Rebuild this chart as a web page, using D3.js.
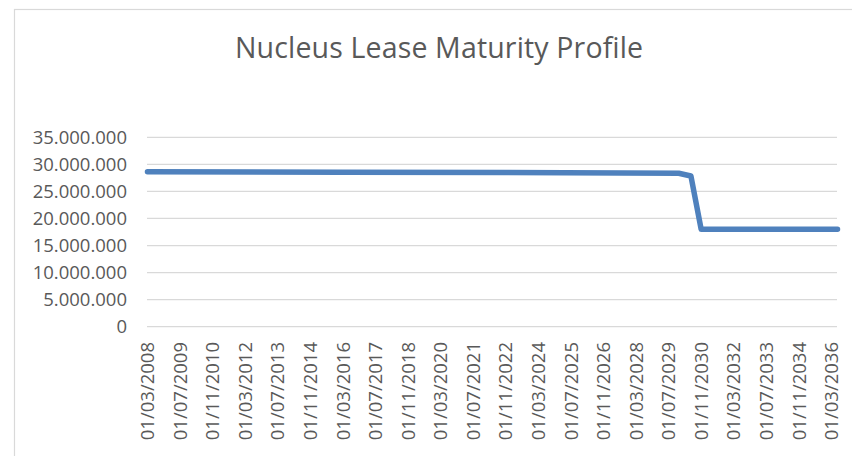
<!DOCTYPE html>
<html>
<head>
<meta charset="utf-8">
<script src="https://cdn.jsdelivr.net/npm/d3@7"></script>
<style>
  html, body { margin: 0; padding: 0; background: #fff; }
  svg { display: block; }
  text { font-family: "Open Sans", sans-serif; fill: #595959; }
</style>
</head>
<body>
<svg id="chart" width="852" height="456"></svg>
<script>
// ---- data ----
const title = "Nucleus Lease Maturity Profile";
// breakpoint dates (monthly category axis, 01/03/2008 .. 01/06/2036)
const pointDates = ["2008-03-01", "2016-03-01", "2022-11-01", "2029-12-01", "2030-06-01", "2030-11-01", "2036-06-01"];
const pointValues = [28620000, 28550000, 28480000, 28350000, 27850000, 18000000, 18000000];
const xDomain = ["2008-03-01", "2036-06-01"];
const xTickLabels = ["01/03/2008","01/07/2009","01/11/2010","01/03/2012","01/07/2013","01/11/2014",
  "01/03/2016","01/07/2017","01/11/2018","01/03/2020","01/07/2021","01/11/2022","01/03/2024",
  "01/07/2025","01/11/2026","01/03/2028","01/07/2029","01/11/2030","01/03/2032","01/07/2033",
  "01/11/2034","01/03/2036"];
const yTicks = [0, 5000000, 10000000, 15000000, 20000000, 25000000, 30000000, 35000000];

// ---- drawing ----
const svg = d3.select("#chart");
const parseISO = d3.utcParse("%Y-%m-%d");
const parseLabel = d3.utcParse("%d/%m/%Y");

const x = d3.scaleUtc().domain(xDomain.map(parseISO)).range([147.5, 837.5]);
const y = d3.scaleLinear().domain([0, 35000000]).range([326.7, 137.3]);

// chart border
svg.append("rect").attr("x", 14.5).attr("y", 9.5).attr("width", 900).attr("height", 500)
  .attr("fill", "none").attr("stroke", "#d9d9d9").attr("stroke-width", 1.2);

// title
svg.append("text").attr("x", 439).attr("y", 58).attr("text-anchor", "middle")
  .style("font-size", "28.5px").style("font-weight", 400)
  .attr("textLength", 408).attr("lengthAdjust", "spacing").text(title);

// gridlines
svg.append("g").selectAll("line").data(yTicks).join("line")
  .attr("x1", 147).attr("x2", 837)
  .attr("y1", d => y(d)).attr("y2", d => y(d))
  .attr("stroke", "#d9d9d9").attr("stroke-width", 1.3);

// y axis labels
const fmt = d3.formatLocale({decimal: ",", thousands: ".", grouping: [3], currency: ["", ""]}).format(",.0f");
svg.append("g").selectAll("text").data(yTicks).join("text")
  .attr("x", 127).attr("y", d => y(d)).attr("dy", "0.36em")
  .attr("text-anchor", "end").style("font-size", "18.5px")
  .text(d => fmt(d));

// x axis labels (rotated)
svg.append("g").selectAll("text").data(xTickLabels).join("text")
  .attr("transform", d => `translate(${x(parseLabel(d))},342) rotate(-90)`)
  .attr("dy", "0.36em").attr("text-anchor", "end").style("font-size", "18.5px")
  .text(d => d);

// line
const data = pointDates.map((d, i) => ({date: parseISO(d), value: pointValues[i]}));
svg.append("path").datum(data)
  .attr("fill", "none").attr("stroke", "#4f81bd").attr("stroke-width", 5.5)
  .attr("stroke-linejoin", "round").attr("stroke-linecap", "round")
  .attr("d", d3.line().x(d => x(d.date)).y(d => y(d.value)));
</script>
</body>
</html>
